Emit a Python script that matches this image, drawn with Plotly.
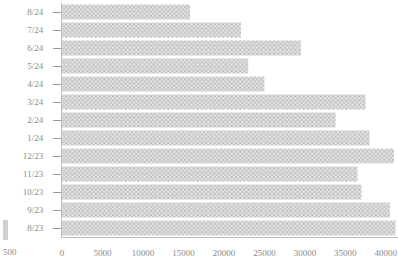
import plotly.graph_objects as go

months = ["8/24", "7/24", "6/24", "5/24", "4/24", "3/24", "2/24", "1/24",
          "12/23", "11/23", "10/23", "9/23", "8/23"]
values = [15800, 22100, 29500, 23000, 25000, 37500, 33800, 38000,
          41000, 36500, 37000, 40500, 41200]
x_ticks = [0, 5000, 10000, 15000, 20000, 25000, 30000, 35000, 40000]
x_tick_text = ["0", "5000", "10000", "15000", "20000", "25000", "30000", "35000", "40000"]

fig = go.Figure()
fig.add_trace(go.Bar(
    y=months, x=values, orientation="h",
    marker=dict(color="white",
                line=dict(width=0),
                pattern=dict(shape="x", fgcolor="#7e7e7e", bgcolor="#e2e2e2",
                             size=3, solidity=0.4)),
))

fig.update_layout(
    width=398, height=262,
    margin=dict(l=62, r=0, t=3, b=25),
    paper_bgcolor="white", plot_bgcolor="white",
    bargap=0.17, showlegend=False,
    font=dict(family="Liberation Serif", size=9, color="#8a8a8a"),
    xaxis=dict(range=[0, 41500], tickvals=x_ticks, ticktext=x_tick_text,
               showgrid=False, zeroline=False, showline=True,
               linecolor="#bdbdbd", linewidth=1, ticks="",
               ticklabelstandoff=7),
    yaxis=dict(categoryorder="array", categoryarray=months[::-1],
               showgrid=False, zeroline=False, showline=True,
               linecolor="#bdbdbd", linewidth=1,
               ticks="outside", ticklen=8, tickcolor="#9a9a9a",
               ticklabelstandoff=8),
)

fig.add_annotation(text="500", xref="paper", yref="paper",
                   x=(10 - 62) / 336, y=-0.065, showarrow=False,
                   font=dict(size=9, color="#8a8a8a"), xanchor="center", yanchor="middle")
fig.add_shape(type="rect", xref="paper", yref="paper",
              x0=(3 - 62) / 336, x1=(8 - 62) / 336,
              y0=(262 - 25 - 240 + 0) / 234 + 0, y1=(237 - 220) / 234,
              line=dict(width=0), fillcolor="#c4c4c4", opacity=0.8, layer="above")

fig.write_html("out.html", config={"displayModeBar": False},
               post_script="document.body.style.margin='0px';document.body.style.overflow='hidden';")
